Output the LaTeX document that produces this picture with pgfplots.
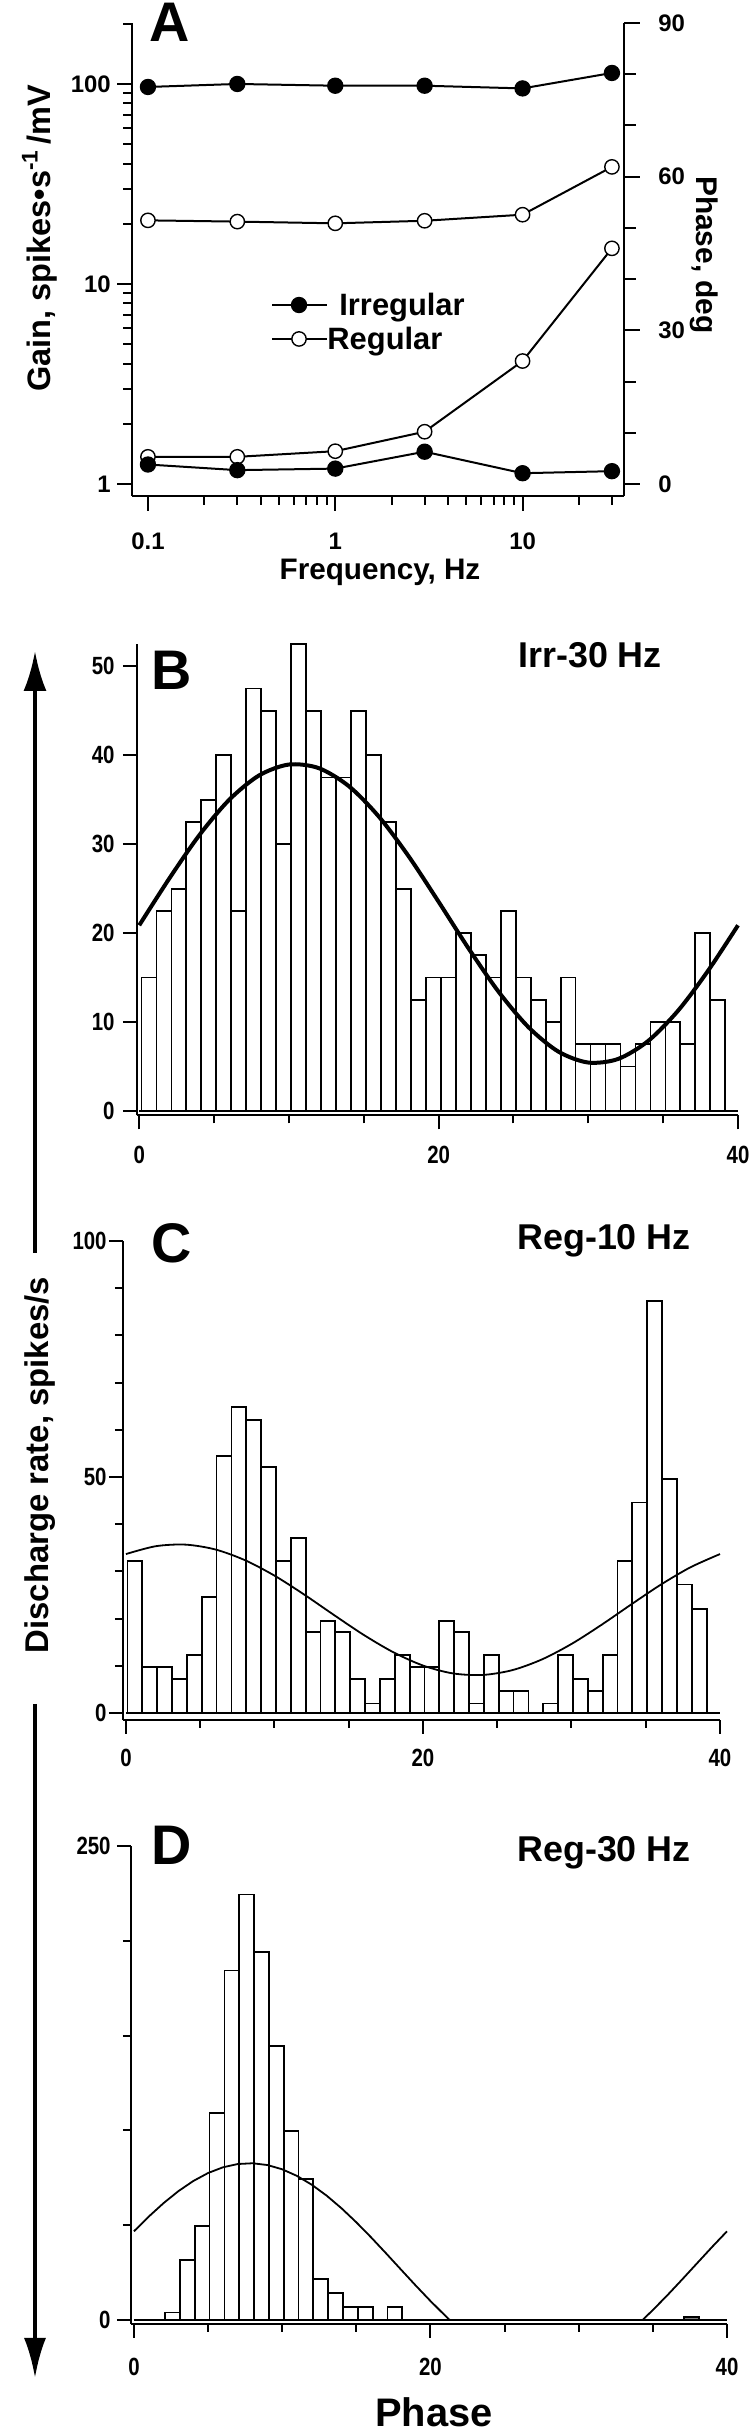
\documentclass[border=0pt]{standalone}
\usepackage{fontspec}
\setmainfont{Liberation Sans}
\newfontfamily\narrowsans[FakeStretch=0.82]{Liberation Sans}
\usepackage{pgfplots}
\pgfplotsset{compat=1.18}
\usetikzlibrary{arrows.meta}
\newcommand\fs[1]{\fontsize{#1}{#1}\selectfont}
\newcommand\ticka{\fontsize{12}{14}\selectfont\bfseries}
\newcommand\tickh{\fontsize{12.5}{14}\selectfont\narrowsans\bfseries}
\pgfplotsset{
  hist/.style={
    scale only axis, anchor=south west, clip=false,
    axis x line=bottom, axis y line=left, axis line style={-, line width=1bp},
    tick align=outside, major tick length=7bp, minor tick length=4bp,
    tick style={black, line width=1bp},
    xmax=40, xtick={0,20,40}, minor xtick={5,10,15,25,30,35},
    /pgf/number format/assume math mode=true,
    ticklabel style={font=\tickh},
    yticklabel style={anchor=east, inner xsep=0pt},
  },
  bars/.style={ybar, bar width=1, bar shift=0pt, fill=white, draw=black, line width=0.9bp},
}
\begin{document}
\begin{tikzpicture}
\useasboundingbox (0bp,0bp) rectangle (375bp,1216bp);

% ---------------- Panel A : gain (left, log) ----------------
\begin{axis}[
  at={(66bp,968bp)}, anchor=south west, scale only axis,
  width=246bp, height=236.5bp,
  xmode=log, ymode=log,
  xmin=0.0822, xmax=34.8, ymin=0.871, ymax=201.8,
  axis x line=bottom, axis y line=left, axis line style={-, line width=1bp},
  tick align=outside, major tick length=7.5bp, minor tick length=4.5bp,
  tick style={black, line width=1bp},
  xtick={0.1,1,10}, xticklabels={0.1,1,10},
  minor xtick={0.2,0.3,0.4,0.5,0.6,0.7,0.8,0.9,2,3,4,5,6,7,8,9,20,30},
  ytick={1,10,100}, yticklabels={1,10,100},
  minor ytick={2,3,4,5,6,7,8,9,20,30,40,50,60,70,80,90,200},
  ticklabel style={font=\ticka},
  xticklabel style={anchor=base, yshift=-19.3bp},
  yticklabel style={anchor=east, inner xsep=0pt, xshift=-3bp},
  clip=false,
]
% Irregular gain
\addplot[black, line width=1bp, mark=*, mark size=3.6pt, mark options={fill=black, draw=black}]
  coordinates {(0.1,96.6) (0.3,100) (1,98) (3,98) (10,95) (30,113.5)};
% Regular gain
\addplot[black, line width=1bp, mark=*, mark size=3.6pt, mark options={fill=white, draw=black, line width=0.7bp}]
  coordinates {(0.1,20.8) (0.3,20.5) (1,20.1) (3,20.7) (10,22.2) (30,38.5)};
% legend
\addplot[black, line width=1bp, mark=*, mark size=3.6pt, mark indices={2}, mark options={fill=black}]
  coordinates {(0.4597,7.85) (0.6406,7.85) (0.9037,7.85)};
\addplot[black, line width=1bp, mark=*, mark size=3.6pt, mark indices={2}, mark options={fill=white, line width=0.7bp}]
  coordinates {(0.4597,5.31) (0.6406,5.31) (0.9037,5.31)};
\node[anchor=base west, inner sep=0pt, font=\fs{15.5}\bfseries] at (axis cs:1.047,6.96) {Irregular};
\node[anchor=base west, inner sep=0pt, font=\fs{15.5}\bfseries] at (axis cs:0.9037,4.70) {Regular};
\end{axis}

% ---------------- Panel A : phase (right, linear) ----------------
\begin{axis}[
  at={(66bp,968bp)}, anchor=south west, scale only axis,
  width=246bp, height=236.5bp,
  xmode=log, xmin=0.0822, xmax=34.8,
  ymin=-2.343, ymax=90,
  axis x line=none, axis y line=right, axis line style={-, line width=1bp},
  tick align=outside, major tick length=8bp, minor tick length=6bp,
  tick style={black, line width=1bp},
  ytick={0,30,60,90}, minor ytick={10,20,40,50,70,80},
  /pgf/number format/assume math mode=true,
  ticklabel style={font=\ticka},
  yticklabel style={anchor=west, inner xsep=0pt, xshift=9bp},
  clip=false,
]
% Regular phase
\addplot[black, line width=1bp, mark=*, mark size=3.6pt, mark options={fill=white, draw=black, line width=0.7bp}]
  coordinates {(0.1,5.3) (0.3,5.3) (1,6.4) (3,10.2) (10,24.0) (30,46.0)};
% Irregular phase
\addplot[black, line width=1bp, mark=*, mark size=3.6pt, mark options={fill=black, draw=black}]
  coordinates {(0.1,3.8) (0.3,2.7) (1,3.0) (3,6.3) (10,2.1) (30,2.5)};
\end{axis}

% ---------------- Panel B ----------------
\begin{axis}[hist,
  at={(68.5bp,658.25bp)}, width=300.5bp, height=235.75bp,
  xmin=-0.15, ymin=-0.5, ymax=52.5,
  ytick={0,10,20,30,40,50},
  xticklabel style={anchor=base, inner xsep=0pt, yshift=-17bp},
  yticklabel style={xshift=-4bp},
]
\addplot[bars] coordinates {
(0.65,15) (1.65,22.5) (2.65,25) (3.65,32.5) (4.65,35) (5.65,40) (6.65,22.5) (7.65,47.5)
(8.65,45) (9.65,30) (10.65,52.5) (11.65,45) (12.65,37.5) (13.65,37.5) (14.65,45) (15.65,40)
(16.65,32.5) (17.65,25) (18.65,12.5) (19.65,15) (20.65,15) (21.65,20) (22.65,17.5) (23.65,15)
(24.65,22.5) (25.65,15) (26.65,12.5) (27.65,10) (28.65,15) (29.65,7.5) (30.65,7.5) (31.65,7.5)
(32.65,5) (33.65,7.5) (34.65,10) (35.65,10) (36.65,7.5) (37.65,20) (38.65,12.5)};
\addplot[black, line width=0.9bp] coordinates {(0,0) (40,0)};
\addplot[black, line width=2bp, smooth] coordinates {
(0,20.88) (2,26.12) (4,30.98) (6,34.97) (8,37.72) (10,38.95) (12,38.54) (14,36.52) (16,33.11)
(18,28.63) (20,23.52) (22,18.28) (24,13.42) (26,9.43) (28,6.68) (30,5.45) (32,5.86) (34,7.88)
(36,11.29) (38,15.77) (40,20.88)};
\end{axis}

% ---------------- Panel C ----------------
\begin{axis}[hist,
  at={(61.5bp,356bp)}, width=298.5bp, height=239.5bp,
  xmin=-0.2, ymin=-1.5, ymax=100,
  ytick={0,50,100}, minor ytick={10,20,30,40,60,70,80,90},
  xticklabel style={anchor=base, inner xsep=0pt, yshift=-16.3bp},
  yticklabel style={xshift=-1bp},
]
\addplot[bars] coordinates {
(0.6,32.2) (1.6,9.8) (2.6,9.8) (3.6,7.2) (4.6,12.2) (5.6,24.6) (6.6,54.5) (7.6,64.8) (8.6,62)
(9.6,52.1) (10.6,32.2) (11.6,37.1) (12.6,17.1) (13.6,19.5) (14.6,17.1) (15.6,7.2) (16.6,2)
(17.6,7.2) (18.6,12.2) (19.6,9.8) (20.6,9.8) (21.6,19.5) (22.6,17.1) (23.6,2) (24.6,12.2)
(25.6,4.6) (26.6,4.6) (28.6,2) (29.6,12.2) (30.6,7.2) (31.6,4.6) (32.6,12.2) (33.6,32.2)
(34.6,44.6) (35.6,87.3) (36.6,49.5) (37.6,27.2) (38.6,22)};
\addplot[black, line width=0.9bp] coordinates {(0,0) (40,0)};
\addplot[black, line width=0.9bp, smooth] coordinates {
(0,33.66) (2,35.32) (4,35.66) (6,34.65) (8,32.38) (10,29.09) (12,25.08) (14,20.76) (16,16.55)
(18,12.86) (20,10.04) (22,8.38) (24,8.04) (26,9.05) (28,11.32) (30,14.61) (32,18.62) (34,22.94)
(36,27.15) (38,30.84) (40,33.66)};
\end{axis}

% ---------------- Panel D ----------------
\begin{axis}[hist,
  at={(65.5bp,54bp)}, width=298bp, height=239bp,
  xmin=-0.2, ymin=-2.1, ymax=250,
  ytick={0,250}, minor ytick={50,100,150,200},
  xticklabel style={anchor=base, inner xsep=0pt, yshift=-18.8bp},
  yticklabel style={xshift=-3bp},
]
\addplot[bars] coordinates {
(2.6,4) (3.6,31.5) (4.6,49.4) (5.6,109) (6.6,184.3) (7.6,224.4) (8.6,194.3) (9.6,144.5)
(10.6,99.5) (11.6,74.3) (12.6,21.7) (13.6,14.2) (14.6,6.8) (15.6,6.8) (17.6,6.8)};
\addplot[bars, fill=gray] coordinates {(37.6,1.6)};
\addplot[black, line width=0.9bp] coordinates {(0,0) (40,0)};
\addplot[black, line width=0.9bp] coordinates {
(0,46.79) (1,54.56) (2,61.68) (3,67.98) (4,73.31) (5,77.53) (6,80.54) (7,82.27) (8,82.67)
(9,81.74) (10,79.49) (11,75.98) (12,71.31) (13,65.57) (14,58.92) (15,51.52) (16,43.55)
(17,35.20) (18,26.69) (19,18.22) (20,10.01) (21,2.24) (21.3,0) (34.3,0) (35,5.28) (36,13.25)
(37,21.60) (38,30.10) (39,38.58) (40,46.79)};
\end{axis}

% ---------------- labels ----------------
\node[anchor=center, inner sep=0pt, font=\fs{28}\bfseries] at (85bp,1205bp) {A};
\node[anchor=center, inner sep=0pt, font=\fs{28}\bfseries] at (86bp,881bp) {B};
\node[anchor=center, inner sep=0pt, font=\fs{28}\bfseries] at (86bp,594.5bp) {C};
\node[anchor=center, inner sep=0pt, font=\fs{28}\bfseries] at (86bp,293.5bp) {D};

\node[anchor=base, inner sep=0pt, font=\fs{18}\bfseries] at (295bp,882bp) {Irr-30 Hz};
\node[anchor=base, inner sep=0pt, font=\fs{18}\bfseries] at (302bp,591bp) {Reg-10 Hz};
\node[anchor=base, inner sep=0pt, font=\fs{18}\bfseries] at (302bp,285bp) {Reg-30 Hz};

\node[anchor=base, inner sep=0pt, rotate=90, font=\fs{16.3}\bfseries] at (25bp,1097bp) {Gain, spikes•s\textsuperscript{-1}\,/mV};
\node[anchor=base, inner sep=0pt, rotate=-90, font=\fs{15}\bfseries] at (348bp,1088.5bp) {Phase, deg};
\node[anchor=base, inner sep=0pt, font=\fs{14.9}\bfseries] at (190bp,926bp) {Frequency, Hz};
\node[anchor=base, inner sep=0pt, rotate=90, font=\fs{16.5}\bfseries] at (24bp,483.5bp) {Discharge rate, spikes/s};
\node[anchor=base, inner sep=0pt, font=\fs{20}\bfseries] at (217bp,3bp) {Phase};

\draw[line width=2bp, -{Latex[length=20bp,width=11.5bp]}] (17.5bp,589.5bp) -- (17.5bp,890.5bp);
\draw[line width=2bp, -{Latex[length=20bp,width=11bp]}] (17.5bp,364bp) -- (17.5bp,27bp);
\end{tikzpicture}
\end{document}
